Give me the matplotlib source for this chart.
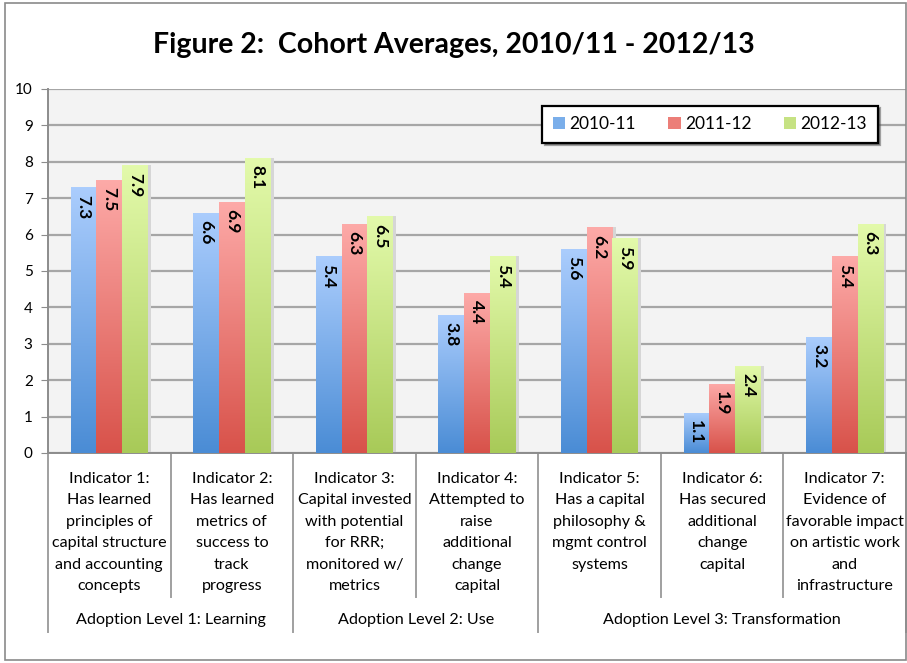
import matplotlib.pyplot as plt
import numpy as np
from matplotlib.colors import LinearSegmentedColormap
from matplotlib.patches import Patch, Rectangle

plt.rcParams['font.family'] = ['Lato', 'DejaVu Sans']

indicators = [
    'Indicator 1:\nHas learned\nprinciples of\ncapital structure\nand accounting\nconcepts',
    'Indicator 2:\nHas learned\nmetrics of\nsuccess to\ntrack\nprogress',
    'Indicator 3:\nCapital invested\nwith potential\nfor RRR;\nmonitored w/\nmetrics',
    'Indicator 4:\nAttempted to\nraise\nadditional\nchange\ncapital',
    'Indicator 5:\nHas a capital\nphilosophy &\nmgmt control\nsystems',
    'Indicator 6:\nHas secured\nadditional\nchange\ncapital',
    'Indicator 7:\nEvidence of\nfavorable impact\non artistic work\nand\ninfrastructure',
]
levels = ['Adoption Level 1: Learning', 'Adoption Level 2: Use',
          'Adoption Level 3: Transformation']
level_bounds = [0, 2, 4, 7]

series = ['2010-11', '2011-12', '2012-13']
v2010 = [7.3, 6.6, 5.4, 3.8, 5.6, 1.1, 3.2]
v2011 = [7.5, 6.9, 6.3, 4.4, 6.2, 1.9, 5.4]
v2012 = [7.9, 8.1, 6.5, 5.4, 5.9, 2.4, 6.3]

# (top, bottom) gradient colours per series
grads = [('#abcdfd', '#4a8cd5'), ('#fdaaa8', '#d8524a'), ('#e3faab', '#a8ca58')]
mids = ['#7aaeea', '#ec7e78', '#c6e283']

fig = plt.figure(figsize=(9.07, 6.63), dpi=100)
fig.patch.set_facecolor('white')
fig.patches.append(Rectangle((5 / 907, 3 / 663), 901 / 907, 657 / 663,
                             transform=fig.transFigure, fill=False,
                             edgecolor='#8a8a8a', linewidth=1.2))

ax = fig.add_axes([48 / 907, 1 - 453 / 663, 858 / 907, 364 / 663])
ax.set_facecolor('#f3f3f3')

x = np.arange(len(indicators))
w = 0.21
ramp = np.linspace(0, 1, 256).reshape(-1, 1)
for k, vals in enumerate([v2010, v2011, v2012]):
    pos = x + (k - 1) * w
    # soft shadow
    ax.bar(pos + 0.025, vals, w, color='#d6d6d6', zorder=2)
    bars = ax.bar(pos, vals, w, color='none', zorder=3)
    cmap = LinearSegmentedColormap.from_list('g%d' % k, list(grads[k]))
    for b, v in zip(bars, vals):
        x0 = b.get_x()
        im = ax.imshow(ramp, extent=[x0, x0 + w, 0, v], cmap=cmap,
                       aspect='auto', zorder=3.5)
        im.set_clip_path(b)
        ax.text(b.get_x() + w / 2, v - 0.2, f'{v:.1f}', rotation=-90,
                ha='center', va='top', fontsize=12.5, fontweight='bold',
                zorder=5)

ax.set_xlim(-0.5, len(indicators) - 0.5)
ax.set_ylim(0, 10)
ax.set_yticks(range(11))
ax.set_xticks([])
ax.yaxis.grid(True, color='#a6a6a6', linewidth=1.6, zorder=1)
ax.set_axisbelow(True)
ax.tick_params(axis='y', length=5, color='#8c8c8c', labelsize=11, pad=6)
for s in ['top', 'right']:
    ax.spines[s].set_visible(False)
for s in ['left', 'bottom']:
    ax.spines[s].set_color('#8c8c8c')
    ax.spines[s].set_linewidth(1.4)

tr = ax.get_xaxis_transform()
for i, lab in enumerate(indicators):
    ax.text(i, -0.052, lab, transform=tr, ha='center', va='top',
            fontsize=11.6, linespacing=1.68)
for j in range(1, len(indicators)):
    if j not in level_bounds:
        ax.plot([j - 0.5, j - 0.5], [0, -0.396], transform=tr, clip_on=False,
                color='#a0a0a0', linewidth=1.4)
for b in level_bounds:
    ax.plot([b - 0.5, b - 0.5], [0, -0.492], transform=tr, clip_on=False,
            color='#a0a0a0', linewidth=1.4)
for lev, a, b in zip(levels, level_bounds[:-1], level_bounds[1:]):
    ax.text((a + b - 1) / 2, -0.459, lev, transform=tr, ha='center',
            va='center', fontsize=11.6)

handles = [Patch(facecolor=c) for c in mids]
leg = ax.legend(handles, series, ncol=3, loc='center',
                bbox_to_anchor=(0.566, 0.843, 0.411, 0.121), mode='expand',
                fontsize=12.5, frameon=True, fancybox=False, shadow=True,
                handlelength=0.7, handleheight=0.7, handletextpad=0.25,
                borderpad=0.6, framealpha=1)
leg.get_frame().set_edgecolor('black')
leg.get_frame().set_linewidth(1.6)
leg.set_zorder(10)

fig.text(0.5, 1 - 45 / 663, 'Figure 2:  Cohort Averages, 2010/11 - 2012/13',
         ha='center', va='center', fontsize=20.5, fontweight='bold')

fig.savefig('out.png', dpi=100)
